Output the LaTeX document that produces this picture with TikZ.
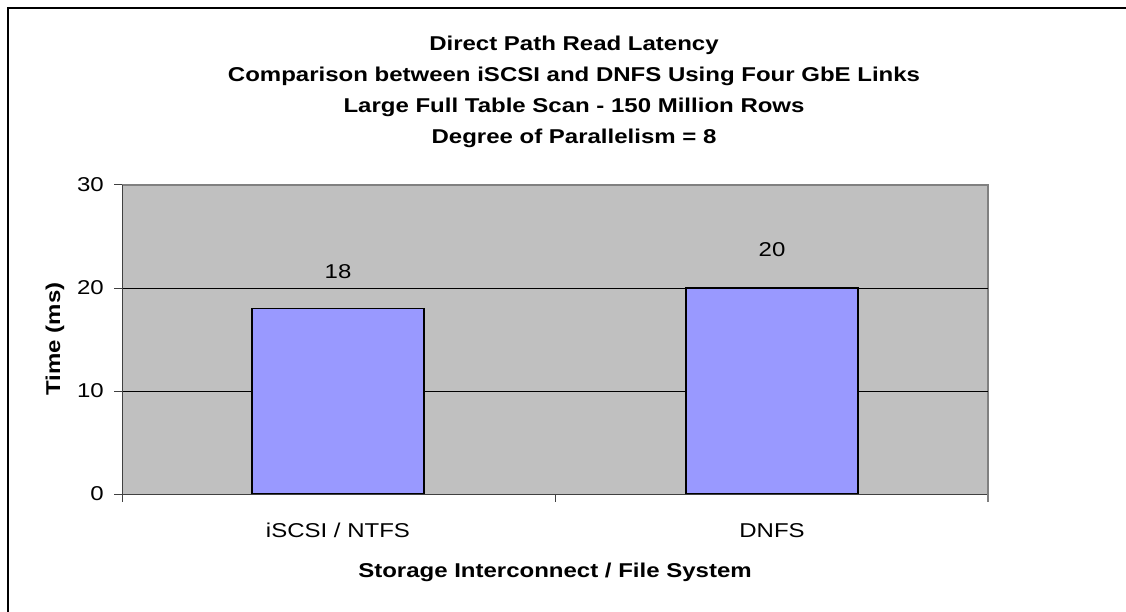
\documentclass[tikz,border=0pt]{standalone}
\usepackage{fontspec}
\setmainfont[FakeStretch=1.2]{Liberation Sans}
\usepackage{tikz}
\definecolor{plotgray}{HTML}{C0C0C0}
\definecolor{plotedge}{HTML}{808080}
\definecolor{barblue}{HTML}{9999FF}
\definecolor{axisgray}{HTML}{404040}

\begin{document}
\begin{tikzpicture}[x=1pt, y=-1pt,
    lbl/.style={font=\fontsize{20}{24}\selectfont, inner sep=0pt},
    boldlbl/.style={font=\fontsize{20}{24}\selectfont\bfseries, inner sep=0pt}]
        \useasboundingbox (0,0) rectangle (1126,612);
        \fill[white] (0,0) rectangle (1126,612);
        \draw[black, line width=1.5] (8,620) -- (8,8) -- (1135,8);
        % Title
        \node[boldlbl, anchor=base] (title1) at (574,51) {Direct Path Read Latency};
        \node[boldlbl, anchor=base] (title2) at (574,82) {Comparison between iSCSI and DNFS Using Four GbE Links};
        \node[boldlbl, anchor=base] (title3) at (574,113) {Large Full Table Scan - 150 Million Rows};
        \node[boldlbl, anchor=base] (title4) at (574,144) {Degree of Parallelism = 8};
        % Plot area
        \fill[plotgray] (122,185) rectangle (988,494);
        \draw[plotedge, line width=1.2] (122,185) -- (988,185) -- (988,494);
        \draw[black, line width=0.8] (122,288) -- (988,288);
        \draw[black, line width=0.8] (122,391) -- (988,391);
        % Bars
        \draw[fill=barblue, line width=1.2] (252,494) rectangle (424,308.6);
        \draw[fill=barblue, line width=1.2] (686,494) rectangle (858,288);
        \node[lbl, anchor=base] (v1) at (338,278) {18};
        \node[lbl, anchor=base] (v2) at (772,257) {20};
        % Axes and ticks
        \draw[axisgray, line width=1] (122,185) -- (122,502);
        \draw[axisgray, line width=1] (114,494) -- (988,494);
        \draw[axisgray, line width=1] (114,185) -- (122,185);
        \draw[axisgray, line width=1] (114,288) -- (122,288);
        \draw[axisgray, line width=1] (114,391) -- (122,391);
        \draw[axisgray, line width=1] (555,494) -- (555,502);
        \draw[plotedge, line width=1.2] (988,494) -- (988,502);
        \node[lbl, anchor=east] (y30) at (104,185) {30};
        \node[lbl, anchor=east] (y20) at (104,288) {20};
        \node[lbl, anchor=east] (y10) at (104,391) {10};
        \node[lbl, anchor=east] (y0) at (104,494) {0};
        \node[lbl, anchor=base] (cat1) at (338,537) {iSCSI / NTFS};
        \node[lbl, anchor=base] (cat2) at (772,537) {DNFS};
        % Axis titles
        \node[boldlbl, anchor=base] (xtitle) at (555,577) {Storage Interconnect / File System};
        \node[boldlbl, anchor=base, rotate=90] (ytitle) at (60,339) {Time (ms)};
      \end{tikzpicture}
\end{document}
